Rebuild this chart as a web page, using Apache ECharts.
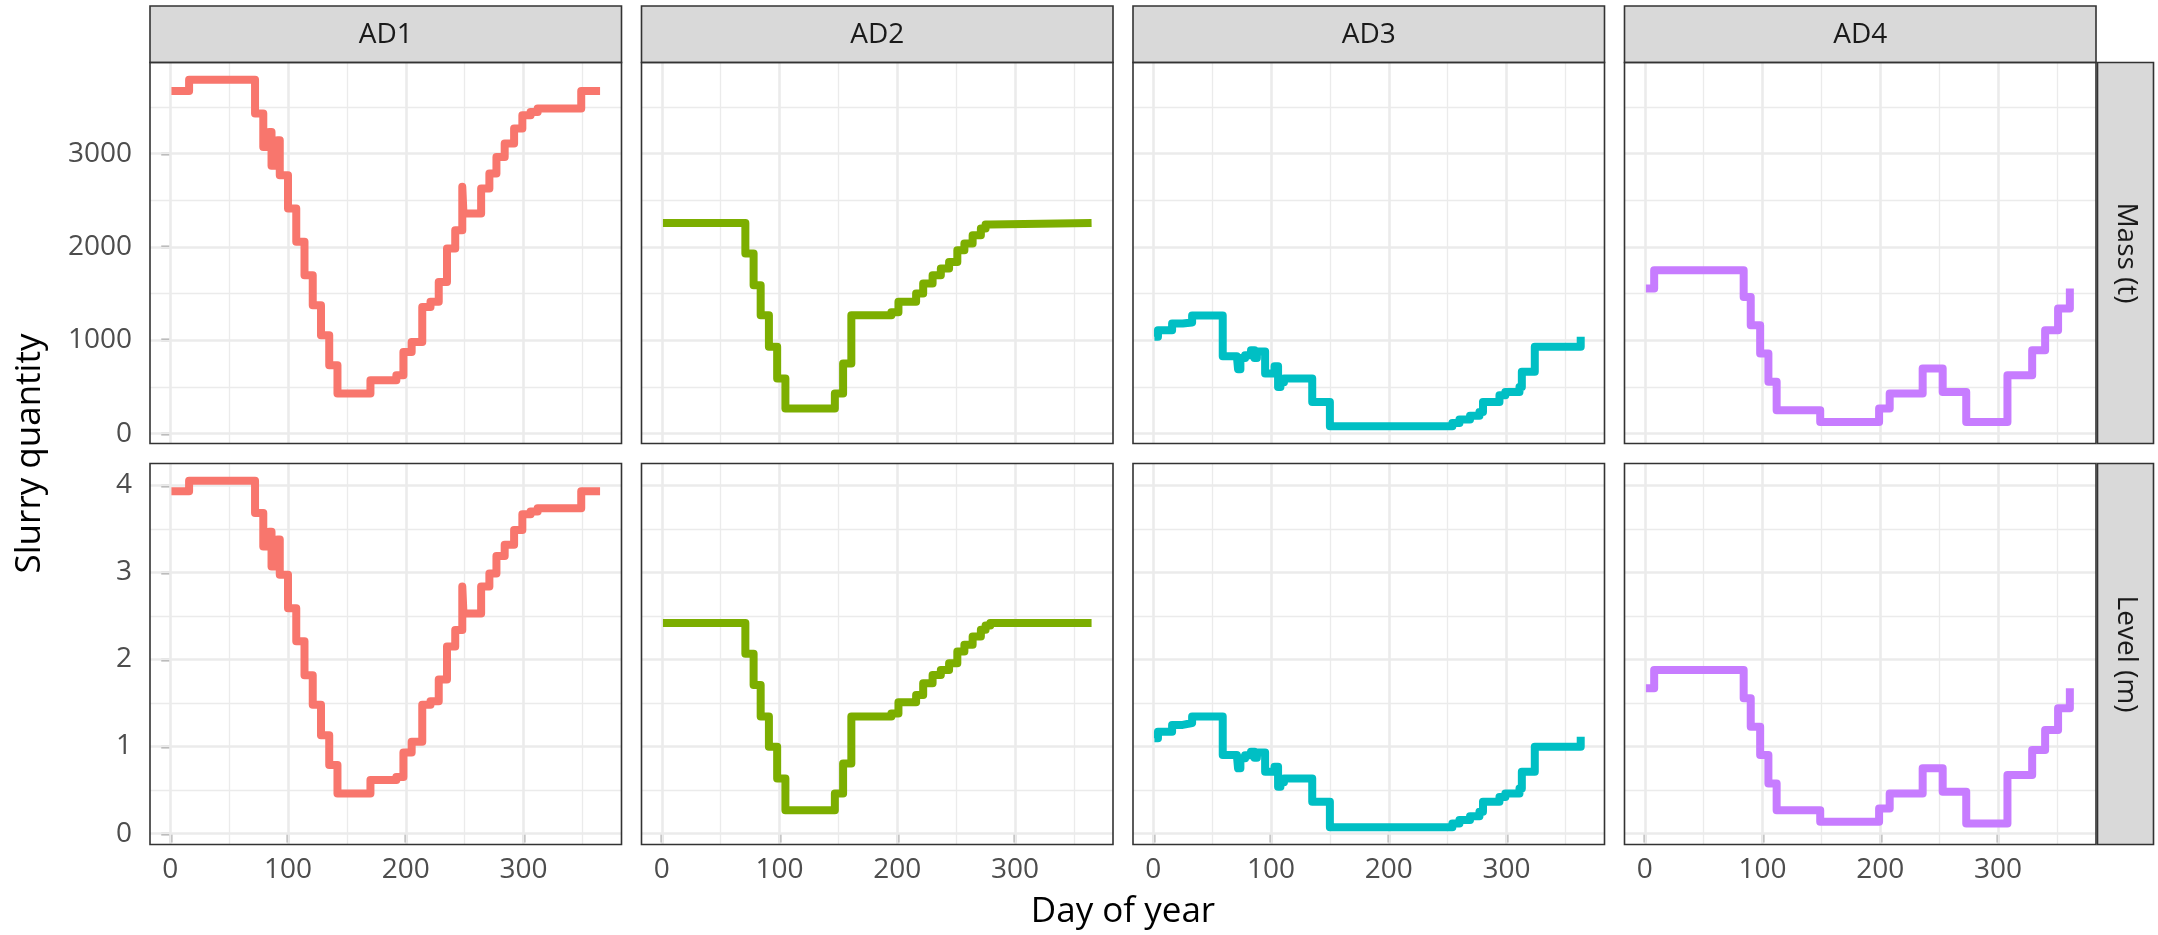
<!DOCTYPE html>
<html>
<head>
<meta charset="utf-8">
<script src="https://cdn.jsdelivr.net/npm/echarts@6/dist/echarts.min.js"></script>
<style>
html,body{margin:0;padding:0;background:#ffffff;}
#chart{width:2158px;height:935px;}
</style>
</head>
<body>
<div id="chart"></div>
<script>
// ---------------- data ----------------
const plants = ['AD1', 'AD2', 'AD3', 'AD4'];
const rowLabels = ['Mass (t)', 'Level (m)'];
const xTitle = 'Day of year';
const yTitle = 'Slurry quantity';
const xTicks = [0, 100, 200, 300];
const xMinorTicks = [50, 150, 250, 350];
const massTicks = [0, 1000, 2000, 3000];
const massMinorTicks = [500, 1500, 2500, 3500];
const levelTicks = [0, 1, 2, 3, 4];
const levelMinorTicks = [0.5, 1.5, 2.5, 3.5];
const dayRange = [1, 365];

// change points: value holds from that day until the next listed day
const ad1Days  = [1, 16, 72, 79, 84, 86, 91, 93, 100, 107, 114, 121, 128, 135, 142, 170, 192, 198, 205, 214, 221, 228, 235, 242, 248, 249, 264, 271, 277, 284, 292, 299, 306, 312, 349, 365];
const ad1Mass  = [3671, 3790, 3429, 3071, 3232, 2868, 3143, 2768, 2411, 2054, 1696, 1375, 1054, 732, 429, 571, 625, 875, 982, 1357, 1411, 1625, 1982, 2179, 2643, 2357, 2625, 2786, 2964, 3107, 3268, 3411, 3446, 3482, 3671, 3671];
const ad1Level = [3.935, 4.054, 3.685, 3.30, 3.47, 3.07, 3.38, 2.975, 2.59, 2.21, 1.82, 1.48, 1.13, 0.787, 0.46, 0.614, 0.65, 0.93, 1.056, 1.48, 1.52, 1.77, 2.15, 2.34, 2.84, 2.53, 2.84, 2.99, 3.19, 3.32, 3.49, 3.67, 3.70, 3.74, 3.935, 3.935];

const ad2Days  = [1, 71, 78, 84, 91, 98, 105, 147, 154, 161, 195, 201, 216, 222, 230, 237, 244, 251, 257, 264, 271, 275, 279, 365];
const ad2Mass  = [2257, 1929, 1589, 1268, 929, 589, 268, 429, 750, 1268, 1300, 1411, 1500, 1607, 1696, 1768, 1839, 1964, 2036, 2125, 2196, 2240, 2257, 2257];
const ad2Level = [2.42, 2.065, 1.708, 1.344, 0.998, 0.633, 0.269, 0.461, 0.806, 1.344, 1.38, 1.509, 1.593, 1.727, 1.823, 1.881, 1.958, 2.092, 2.169, 2.265, 2.342, 2.39, 2.42, 2.42];

const ad3Days  = [1, 4, 16, 25, 33, 59, 71, 72, 74, 78, 83, 86, 88, 95, 103, 106, 108, 111, 135, 150, 254, 260, 269, 277, 280, 294, 299, 311, 313, 324, 363];
const ad3Mass  = [1036, 1107, 1179, 1190, 1265, 829, 850, 690, 810, 840, 893, 810, 880, 643, 721, 500, 550, 589, 339, 79, 114, 150, 190, 230, 339, 411, 446, 500, 661, 929, 1036];
const ad3Level = [1.094, 1.17, 1.248, 1.27, 1.345, 0.902, 0.92, 0.749, 0.864, 0.90, 0.94, 0.87, 0.93, 0.71, 0.768, 0.537, 0.59, 0.633, 0.365, 0.073, 0.115, 0.155, 0.2, 0.25, 0.365, 0.42, 0.46, 0.518, 0.71, 0.998, 1.113];

const ad4Days  = [1, 8, 84, 90, 98, 105, 112, 149, 199, 208, 236, 253, 273, 308, 329, 340, 351, 361];
const ad4Mass  = [1554, 1750, 1464, 1161, 857, 554, 250, 125, 268, 429, 696, 446, 125, 625, 893, 1107, 1339, 1554];
const ad4Level = [1.67, 1.88, 1.555, 1.228, 0.902, 0.576, 0.269, 0.134, 0.288, 0.46, 0.749, 0.48, 0.115, 0.672, 0.96, 1.19, 1.44, 1.67];

// ---------------- styling / layout ----------------
const colors = ['#F8766D', '#7CAE00', '#00BFC4', '#C77CFF'];
const FONT = '"Open Sans", "Noto Sans", "DejaVu Sans", sans-serif';
const L0 = 150, PW = 471.5, GX = 20;
const T0 = 62.5, PH = 381, GY = 20;
const STRIP_TOP = 6, STRIP_H = T0 - STRIP_TOP;
const RSTRIP_X = 2097.5, RSTRIP_W = 56;

const panels = [
  { days: ad1Days, rows: [ad1Mass, ad1Level] },
  { days: ad2Days, rows: [ad2Mass, ad2Level] },
  { days: ad3Days, rows: [ad3Mass, ad3Level] },
  { days: ad4Days, rows: [ad4Mass, ad4Level] }
];
const rowTicks = [massTicks, levelTicks];
const rowMinor = [massMinorTicks, levelMinorTicks];

function expand(lo, hi) { const r = hi - lo; return [lo - 0.05 * r, hi + 0.05 * r]; }
const xExt = expand(dayRange[0], dayRange[1]);
const yExt = [0, 1].map(r => {
  const all = panels.flatMap(p => p.rows[r]);
  return expand(Math.min(...all), Math.max(...all));
});

const grids = [], xAxes = [], yAxes = [], series = [], graphics = [];
const tickStyle = { color: '#333333', width: 2.4 };
const labelStyle = { color: '#4D4D4D', fontSize: 28, fontFamily: FONT, formatter: v => String(v) };

for (let r = 0; r < 2; r++) {
  for (let c = 0; c < 4; c++) {
    const g = r * 4 + c;
    const left = L0 + c * (PW + GX);
    const top = T0 + r * (PH + GY);
    grids.push({ left: left, top: top, width: PW, height: PH, containLabel: false, show: false });
    const showX = r === 1, showY = c === 0;
    xAxes.push({
      type: 'value', gridIndex: g, min: xExt[0], max: xExt[1],
      axisLine: { show: false }, splitLine: { show: false },
      axisTick: { show: showX, customValues: xTicks, length: 9, lineStyle: tickStyle },
      axisLabel: Object.assign({ show: showX, customValues: xTicks, margin: 12 }, labelStyle)
    });
    yAxes.push({
      type: 'value', gridIndex: g, min: yExt[r][0], max: yExt[r][1],
      axisLine: { show: false }, splitLine: { show: false },
      axisTick: { show: showY, customValues: rowTicks[r], length: 9, lineStyle: tickStyle },
      axisLabel: Object.assign({ show: showY, customValues: rowTicks[r], margin: 18 }, labelStyle)
    });
    // background grid lines drawn through the axes
    const major = { color: '#EBEBEB', width: 2.6, type: 'solid' };
    const minor = { color: '#EBEBEB', width: 1.3, type: 'solid' };
    const ml = [];
    xMinorTicks.forEach(v => ml.push({ xAxis: v, lineStyle: minor }));
    rowMinor[r].forEach(v => ml.push({ yAxis: v, lineStyle: minor }));
    xTicks.forEach(v => ml.push({ xAxis: v, lineStyle: major }));
    rowTicks[r].forEach(v => ml.push({ yAxis: v, lineStyle: major }));
    series.push({
      type: 'line', xAxisIndex: g, yAxisIndex: g, data: [], silent: true, z: 1,
      markLine: { silent: true, z: 1, symbol: ['none', 'none'], label: { show: false }, animation: false, data: ml }
    });
    const p = panels[c];
    series.push({
      type: 'line', name: plants[c], xAxisIndex: g, yAxisIndex: g, step: 'end',
      data: p.days.map((d, k) => [d, p.rows[r][k]]),
      symbol: 'none', showSymbol: false, silent: true, z: 20,
      lineStyle: { color: colors[c], width: 8, cap: 'butt', join: 'round' }
    });
    // panel border
    graphics.push({
      type: 'rect', z: 100, silent: true,
      shape: { x: left, y: top, width: PW, height: PH },
      style: { fill: 'transparent', stroke: '#333333', lineWidth: 1.6 }
    });
  }
}

// top strips
for (let c = 0; c < 4; c++) {
  const left = L0 + c * (PW + GX);
  graphics.push({
    type: 'rect', z: 90, silent: true,
    shape: { x: left, y: STRIP_TOP, width: PW, height: STRIP_H },
    style: { fill: '#D9D9D9', stroke: '#333333', lineWidth: 1.6 }
  });
  graphics.push({
    type: 'text', z: 101, silent: true, x: left + PW / 2, y: STRIP_TOP + STRIP_H / 2 + 1,
    style: { text: plants[c], x: 0, y: 0, align: 'center', verticalAlign: 'middle', textAlign: 'center', textVerticalAlign: 'middle',
      fontSize: 28, fontFamily: FONT, fill: '#1A1A1A' }
  });
}
// right strips
for (let r = 0; r < 2; r++) {
  const top = T0 + r * (PH + GY);
  graphics.push({
    type: 'rect', z: 90, silent: true,
    shape: { x: RSTRIP_X, y: top, width: RSTRIP_W, height: PH },
    style: { fill: '#D9D9D9', stroke: '#333333', lineWidth: 1.6 }
  });
  graphics.push({
    type: 'text', z: 101, silent: true, x: RSTRIP_X + RSTRIP_W / 2, y: top + PH / 2, rotation: -Math.PI / 2,
    style: { text: rowLabels[r], x: 0, y: 0, align: 'center', verticalAlign: 'middle', textAlign: 'center', textVerticalAlign: 'middle',
      fontSize: 28, fontFamily: FONT, fill: '#1A1A1A' }
  });
}
// axis titles
graphics.push({
  type: 'text', z: 101, silent: true, x: L0 + (4 * PW + 3 * GX) / 2, y: 912,
  style: { text: xTitle, x: 0, y: 0, align: 'center', verticalAlign: 'middle', textAlign: 'center', textVerticalAlign: 'middle',
    fontSize: 35, fontFamily: FONT, fill: '#000000' }
});
graphics.push({
  type: 'text', z: 101, silent: true, x: 30, y: T0 + (2 * PH + GY) / 2, rotation: Math.PI / 2,
  style: { text: yTitle, x: 0, y: 0, align: 'center', verticalAlign: 'middle', textAlign: 'center', textVerticalAlign: 'middle',
    fontSize: 35, fontFamily: FONT, fill: '#000000' }
});

const chart = echarts.init(document.getElementById('chart'), null, { renderer: 'canvas' });
chart.setOption({
  backgroundColor: '#ffffff',
  animation: false,
  grid: grids,
  xAxis: xAxes,
  yAxis: yAxes,
  series: series,
  graphic: { elements: graphics }
});
</script>
</body>
</html>
